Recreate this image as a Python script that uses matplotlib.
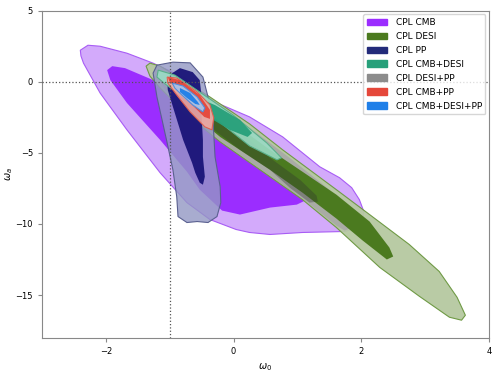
import matplotlib
matplotlib.use('Agg')
import matplotlib.pyplot as plt
from matplotlib.patches import Patch

# contour outlines (w0, wa), 95% and 68% regions
cmb_95_w0 = [-2.40, -2.28, -2.09, -1.67, -1.26, -0.76, -0.37, 0.25, 0.77, 1.35, 1.66, 1.85, 1.97, 2.04, 2.02, 1.93, 1.74, 1.08, 0.57, 0.25, 0.04, -0.37, -0.73, -1.15, -1.67, -2.09, -2.35, -2.39]
cmb_95_wa = [2.22, 2.57, 2.50, 2.01, 1.31, 0.26, -1.28, -2.47, -3.88, -5.98, -6.75, -7.45, -8.29, -9.13, -9.83, -10.32, -10.53, -10.60, -10.74, -10.60, -10.39, -9.69, -8.50, -6.40, -3.38, -0.79, 1.31, 1.82]
cmb_68_w0 = [-1.98, -1.90, -1.70, -1.26, -0.84, -0.37, 0.10, 0.57, 1.08, 1.15, 0.99, 0.57, 0.10, -0.18, -0.53, -0.73, -1.15, -1.67, -1.93]
cmb_68_wa = [0.82, 1.10, 0.96, 0.12, -0.93, -2.33, -4.09, -5.84, -7.60, -8.29, -8.64, -8.85, -9.34, -9.06, -7.59, -6.33, -4.09, -1.49, 0.12]

desi_95_w0 = [-1.37, -1.31, -1.15, -0.84, -0.37, 0.25, 0.77, 1.61, 2.13, 2.75, 3.22, 3.50, 3.63, 3.57, 3.38, 2.91, 2.29, 1.61, 1.08, 0.57, -0.21, -0.76, -1.15, -1.31]
desi_95_wa = [1.10, 1.31, 1.10, 0.26, -1.07, -2.96, -4.79, -7.59, -9.34, -11.44, -13.34, -15.16, -16.42, -16.77, -16.56, -15.09, -13.06, -10.25, -8.29, -6.68, -4.23, -2.19, -0.44, 0.40]
desi_68_w0 = [-1.00, -0.84, -0.37, 0.25, 0.57, 1.08, 1.61, 2.13, 2.44, 2.50, 2.40, 2.02, 1.61, 1.08, 0.57, -0.21, -0.68, -0.96]
desi_68_wa = [0.26, 0.12, -1.42, -3.74, -4.79, -6.33, -7.94, -9.83, -11.66, -12.29, -12.50, -11.16, -9.62, -7.80, -6.19, -3.88, -2.12, -0.58]

pp_95_w0 = [-0.95, -0.68, -0.48, -0.40, -0.32, -0.29, -0.21, -0.20, -0.26, -0.40, -0.57, -0.73, -0.87, -0.89, -0.95, -1.04, -1.12, -1.20, -1.26, -1.20]
pp_95_wa = [1.38, 1.33, 0.33, -1.07, -2.89, -5.28, -7.38, -8.50, -9.48, -9.90, -9.83, -9.90, -9.48, -8.08, -6.19, -4.30, -2.68, -1.07, 0.61, 1.17]
pp_68_w0 = [-0.96, -0.84, -0.64, -0.53, -0.50, -0.50, -0.48, -0.48, -0.45, -0.48, -0.53, -0.60, -0.65, -0.79, -0.92, -1.03, -1.04]
pp_68_wa = [0.61, 0.96, 0.68, 0.12, -1.07, -2.47, -4.09, -5.28, -6.68, -7.24, -7.10, -6.40, -5.70, -4.09, -2.20, -0.58, 0.12]

cd_95_w0 = [-1.18, -0.92, -0.53, -0.01, 0.52, 0.75, 0.68, 0.25, -0.26, -0.68, -1.07, -1.20]
cd_95_wa = [0.82, 0.47, -0.72, -2.33, -4.30, -5.35, -5.49, -4.51, -2.68, -1.42, -0.16, 0.33]
cd_68_w0 = [-0.60, -0.29, 0.10, 0.29, 0.22, -0.06, -0.37, -0.65, -0.73]
cd_68_wa = [-1.07, -1.64, -2.68, -3.60, -3.88, -3.38, -2.54, -1.56, -1.14]

dp_95_w0 = [-1.10, -0.84, -0.37, 0.25, 0.88, 1.50, 1.82, 1.85, 1.74, 1.61, 1.08, 0.57, -0.21, -0.76, -1.07, -1.15]
dp_95_wa = [0.68, 0.26, -1.14, -3.24, -5.35, -7.59, -9.34, -10.27, -10.47, -10.12, -8.22, -6.61, -4.16, -2.12, -0.58, 0.12]
dp_68_w0 = [-0.53, 0.10, 0.57, 1.04, 1.30, 1.32, 1.19, 0.88, 0.57, 0.10, -0.37, -0.57]
dp_68_wa = [-1.98, -3.52, -5.35, -6.89, -8.01, -8.43, -8.50, -7.45, -6.19, -4.79, -3.17, -2.40]

cp_95_w0 = [-1.04, -0.89, -0.57, -0.37, -0.31, -0.34, -0.45, -0.68, -0.89, -1.03]
cp_95_wa = [0.33, 0.26, -0.72, -1.63, -2.54, -3.38, -3.17, -2.12, -0.93, -0.09]
cp_68_w0 = [-1.03, -0.84, -0.53, -0.37, -0.37, -0.46, -0.68, -0.90, -1.01]
cp_68_wa = [0.33, 0.12, -0.93, -1.98, -2.61, -2.47, -1.49, -0.44, 0.05]

cdp_95_w0 = [-0.96, -0.79, -0.57, -0.45, -0.48, -0.64, -0.81, -0.92]
cdp_95_wa = [-0.09, -0.30, -1.07, -1.84, -2.12, -1.63, -0.93, -0.44]
cdp_68_w0 = [-0.84, -0.68, -0.56, -0.53, -0.60, -0.73, -0.84]
cdp_68_wa = [-0.44, -0.79, -1.42, -1.63, -1.56, -1.14, -0.72]

labels = ['CPL CMB', 'CPL DESI', 'CPL PP', 'CPL CMB+DESI', 'CPL DESI+PP', 'CPL CMB+PP', 'CPL CMB+DESI+PP']
legend_colors = ['#9b2dff', '#4b7a1f', '#232b7a', '#27a07a', '#8c8c8c', '#e5473a', '#1f7fe8']

fig = plt.figure(figsize=(5, 3.75), dpi=100)
ax = fig.add_axes([0.084, 0.0995, 0.894, 0.872])


def region(x, y, face, alpha, z, edge=None):
    ax.fill(x, y, color=face, alpha=alpha, lw=0, zorder=z)
    if edge:
        ax.fill(x, y, fill=False, edgecolor=edge, lw=0.8, zorder=z)


# CMB
region(cmb_95_w0, cmb_95_wa, '#d3aafb', 1.0, 1.0, '#a85cf5')
region(cmb_68_w0, cmb_68_wa, '#9b2dff', 1.0, 1.1)
# DESI (with DESI+PP sitting inside its band)
region(desi_95_w0, desi_95_wa, '#b6c9a0', 0.95, 2.0)
region(dp_95_w0, dp_95_wa, '#a9aaa6', 0.95, 2.1)
region(desi_68_w0, desi_68_wa, '#4b7a1f', 1.0, 2.2)
region(dp_68_w0, dp_68_wa, '#303030', 0.35, 2.3)
ax.fill(desi_95_w0, desi_95_wa, fill=False, edgecolor='#6f9a45', lw=0.8, zorder=2.4)
# PP
region(pp_95_w0, pp_95_wa, '#9398c4', 0.8, 3.0, '#5a6090')
region(pp_68_w0, pp_68_wa, '#1a1478', 0.95, 3.1)
# CMB+DESI
region(cd_95_w0, cd_95_wa, '#9bdcc4', 0.9, 4.0, '#5ab08a')
region(cd_68_w0, cd_68_wa, '#27a07a', 0.95, 4.1)
# CMB+PP
region(cp_95_w0, cp_95_wa, '#f2aaa2', 0.9, 5.0, '#e06050')
region(cp_68_w0, cp_68_wa, '#e5473a', 0.95, 5.1)
# CMB+DESI+PP
region(cdp_95_w0, cdp_95_wa, '#a9cbf1', 0.9, 6.0, '#5090e0')
region(cdp_68_w0, cdp_68_wa, '#1f7fe8', 0.95, 6.1)

ax.axvline(-1, color='#555555', ls=':', lw=0.9, zorder=7)
ax.axhline(0, color='#555555', ls=':', lw=0.9, zorder=7)

ax.set_xlim(-3, 4)
ax.set_ylim(-18, 5)
ax.set_xticks([-2, 0, 2, 4])
ax.set_yticks([5, 0, -5, -10, -15])
ax.tick_params(labelsize=6, length=3, color='#888888')
for s in ax.spines.values():
    s.set_color('#888888')
ax.set_xlabel(r'$\omega_0$', fontsize=7)
ax.set_ylabel(r'$\omega_a$', fontsize=7)
ax.xaxis.set_label_coords(0.5, -0.073)
ax.yaxis.set_label_coords(-0.06, 0.5)

handles = [Patch(color=c) for c in legend_colors]
leg = ax.legend(handles, labels, loc='upper right', fontsize=6.5, handlelength=2.3,
                handleheight=0.7, handletextpad=0.9, labelspacing=0.55, borderaxespad=0.4)
leg.set_zorder(10)

fig.savefig('out.png')
